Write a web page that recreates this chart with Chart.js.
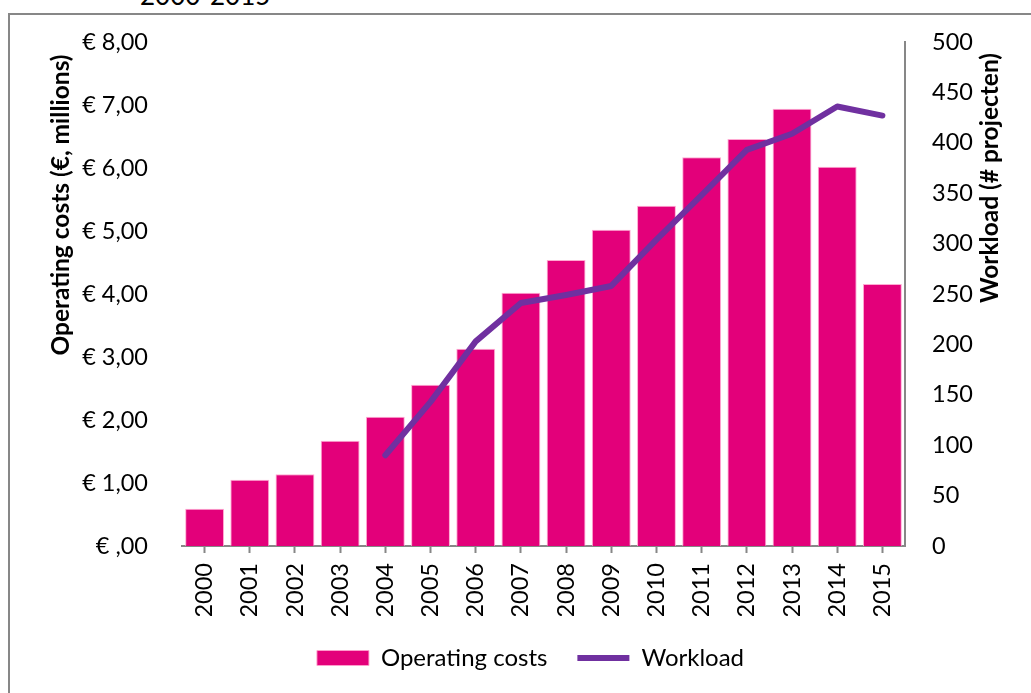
<!DOCTYPE html>
<html>
<head>
<meta charset="utf-8">
<script src="https://cdn.jsdelivr.net/npm/chart.js@4"></script>
<style>
  body { margin: 0; background: #fff; overflow: hidden; }
  #frame {
    position: absolute; left: 8px; top: 13px; width: 1100px; height: 760px;
    border: 2px solid #878787;
  }
  #subtitle {
    position: absolute; left: 140px; top: -18px;
    font: 26px Lato, sans-serif; line-height: 1; color: #000;
  }
  #myChart { position: absolute; left: 0; top: 0; }
</style>
</head>
<body>
<div id="frame"></div>
<div id="subtitle">2000-2015</div>
<canvas id="myChart" width="1031" height="693"></canvas>
<script>
const years = ["2000", "2001", "2002", "2003", "2004", "2005", "2006", "2007",
  "2008", "2009", "2010", "2011", "2012", "2013", "2014", "2015"];
const operatingCosts = [0.59, 1.05, 1.14, 1.67, 2.05, 2.56, 3.13, 4.02,
  4.54, 5.02, 5.40, 6.17, 6.46, 6.94, 6.02, 4.16];
const workload = [null, null, null, null, 90, 143, 203, 241,
  249, 258, 304, 348, 393, 409, 436, 427];
const costTickLabels = ["€ ,00", "€ 1,00", "€ 2,00", "€ 3,00", "€ 4,00",
  "€ 5,00", "€ 6,00", "€ 7,00", "€ 8,00"];

const pink = "#E3007A";
const purple = "#7030A0";
const axisGrey = "#878787";
const font = "Lato, sans-serif";

// axis titles are drawn reading bottom-to-top on both sides
const axisTitles = {
  id: "axisTitles",
  afterDraw(chart) {
    const c = chart.ctx;
    c.save();
    c.fillStyle = "#000";
    c.font = "bold 24.5px " + font;
    c.textAlign = "center";
    c.textBaseline = "middle";
    c.translate(61, 205);
    c.rotate(-Math.PI / 2);
    c.fillText("Operating costs (€, millions)", 0, 0);
    c.restore();
    c.save();
    c.fillStyle = "#000";
    c.font = "bold 24.5px " + font;
    c.textAlign = "center";
    c.textBaseline = "middle";
    c.translate(990, 178);
    c.rotate(-Math.PI / 2);
    c.fillText("Workload (# projecten)", 0, 0);
    c.restore();
  },
};

const ctx = document.getElementById("myChart").getContext("2d");
const myChart = new Chart(ctx, {
  type: "bar",
  data: {
    labels: years,
    datasets: [
      {
        label: "Operating costs",
        data: operatingCosts,
        backgroundColor: pink,
        borderColor: "rgba(255,160,205,0.9)",
        borderWidth: 1,
        barPercentage: 0.86,
        categoryPercentage: 1,
        yAxisID: "y",
        order: 2,
        pointStyle: "rect",
      },
      {
        type: "line",
        label: "Workload",
        data: workload,
        borderColor: purple,
        backgroundColor: purple,
        borderWidth: 6,
        borderCapStyle: "round",
        borderJoinStyle: "round",
        pointRadius: 0,
        tension: 0,
        yAxisID: "y1",
        order: 1,
        pointStyle: "line",
      },
    ],
  },
  options: {
    responsive: false,
    animation: false,
    layout: { padding: { top: 42, left: 30, bottom: 13 } },
    plugins: {
      tooltip: { enabled: false },
      legend: {
        position: "bottom",
        labels: {
          usePointStyle: true,
          pointStyleWidth: 52,
          boxHeight: 15,
          padding: 30,
          color: "#000",
          font: { family: font, size: 24 },
          sort: (a, b) => a.datasetIndex - b.datasetIndex,
        },
      },
    },
    scales: {
      x: {
        offset: true,
        grid: {
          offset: false,
          drawOnChartArea: false,
          drawTicks: true,
          tickLength: 7,
          tickColor: axisGrey,
          tickWidth: 2,
        },
        border: { display: true, color: axisGrey, width: 2 },
        ticks: {
          autoSkip: false,
          maxRotation: 90,
          minRotation: 90,
          padding: 10,
          color: "#000",
          font: { family: font, size: 23.5 },
        },
        afterFit(scale) { scale.height = 70; },
      },
      y: {
        position: "left",
        min: 0,
        max: 8,
        grid: { display: false, drawTicks: false },
        border: { display: false },
        ticks: {
          stepSize: 1,
          padding: 34,
          color: "#000",
          font: { family: font, size: 23.5 },
          callback: (value) => costTickLabels[value],
        },
        afterFit(scale) {
          scale.width = 152;
          scale.paddingTop = 0;
          scale.paddingBottom = 0;
        },
      },
      y1: {
        position: "right",
        min: 0,
        max: 500,
        grid: { drawOnChartArea: false, drawTicks: false },
        border: { display: true, color: axisGrey, width: 2 },
        ticks: {
          stepSize: 50,
          padding: 27,
          color: "#000",
          font: { family: font, size: 23.5 },
        },
        afterFit(scale) {
          scale.width = 126;
          scale.paddingTop = 0;
          scale.paddingBottom = 0;
        },
      },
    },
  },
  plugins: [axisTitles],
});
</script>
</body>
</html>
